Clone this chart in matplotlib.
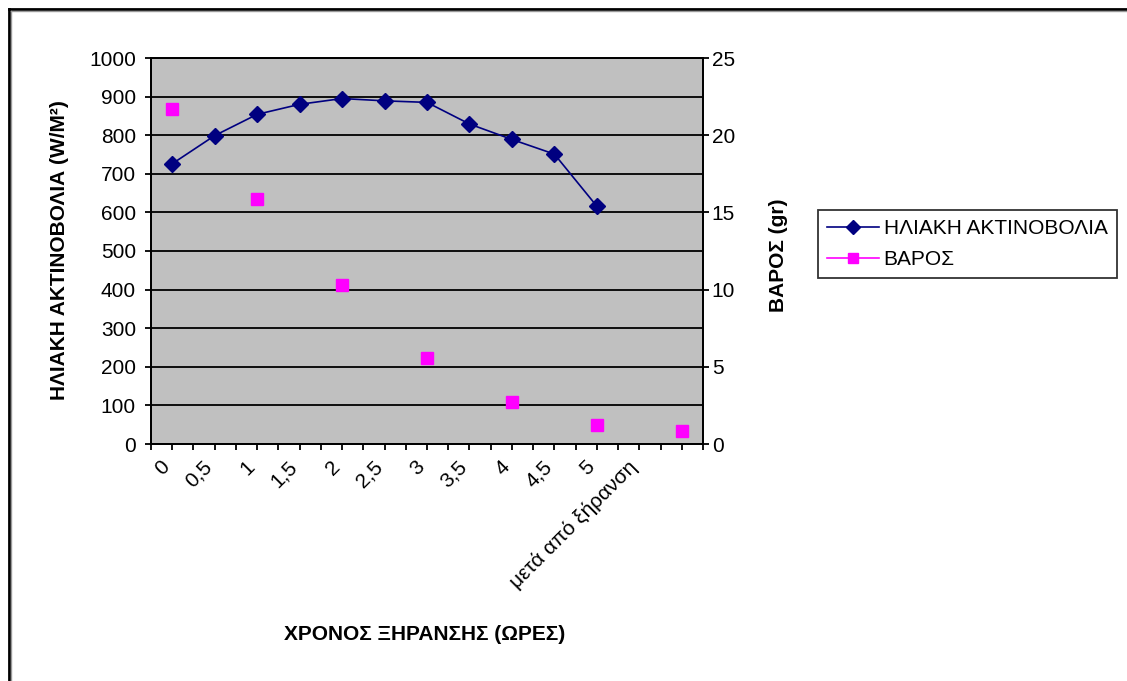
import matplotlib
matplotlib.use("Agg")
import matplotlib.pyplot as plt
from matplotlib.lines import Line2D
from matplotlib.transforms import ScaledTranslation
import numpy as np

categories = ["0", "0,5", "1", "1,5", "2", "2,5", "3", "3,5", "4", "4,5", "5", "μετά από ξήρανση", ""]
radiation = [726, 799, 854, 880, 895, 889, 885, 829, 789, 751, 616]
weight_pos = [0, 2, 4, 6, 8, 10, 12]
weight = [21.7, 15.9, 10.3, 5.6, 2.7, 1.25, 0.85]

plt.rcParams['font.family'] = ['Liberation Sans', 'DejaVu Sans']

FS = 15
W, H = 1127, 681
fig = plt.figure(figsize=(W / 100, H / 100), dpi=100)

L, R, T, B = 151, 703, 58, 444
ax = fig.add_axes([L / W, 1 - B / H, (R - L) / W, (B - T) / H])
ax.set_facecolor('#c0c0c0')
ax.set_xlim(-0.5, len(categories) - 0.5)
ax.set_ylim(0, 1000)
ax.set_yticks(np.arange(0, 1001, 100))
ax.yaxis.grid(True, color='black', linewidth=1.3)
ax.set_axisbelow(True)
for s in ax.spines.values():
    s.set_linewidth(1.3)
    s.set_color('black')

ax2 = ax.twinx()
ax2.set_ylim(0, 25)
ax2.set_yticks(np.arange(0, 26, 5))
for s in ax2.spines.values():
    s.set_linewidth(1.3)

xr = np.arange(len(radiation))
ax.plot(xr, radiation, color='#000080', linewidth=1.2, marker='D', markersize=8,
        markerfacecolor='#000080', markeredgecolor='#000080', zorder=5, clip_on=False)
ax2.plot(weight_pos, weight, linestyle='none', marker='s', markersize=9,
         markerfacecolor='#ff00ff', markeredgecolor='#ff00ff', zorder=5, clip_on=False)

ax.set_xticks(np.arange(len(categories)))
ax.set_xticklabels(categories, rotation=45, ha='right', va='top', rotation_mode='anchor', fontsize=FS)
ax.set_xticks(np.arange(-0.5, len(categories), 1.0), minor=True)
ax.tick_params(axis='x', which='both', direction='out', length=4.3, width=1.3, pad=5)
ax.tick_params(axis='y', direction='out', length=4.3, width=1.3, labelsize=FS, pad=6.5)
ax2.tick_params(axis='y', direction='out', length=4.3, width=1.3, labelsize=FS, pad=2)
off = ScaledTranslation(-12 / 100, 0, fig.dpi_scale_trans)
for lab in ax.get_xticklabels():
    lab.set_transform(lab.get_transform() + off)

fig.text(60 / W, 1 - 250 / H, "ΗΛΙΑΚΗ ΑΚΤΙΝΟΒΟΛΙΑ (W/M²)", rotation=90, ha='center', va='center',
         fontsize=FS, fontweight='bold')
fig.text(778 / W, 1 - 255 / H, "ΒΑΡΟΣ (gr)", rotation=90, ha='center', va='center',
         fontsize=FS, fontweight='bold')
fig.text(425 / W, 1 - 635 / H, "ΧΡΟΝΟΣ ΞΗΡΑΝΣΗΣ (ΩΡΕΣ)", ha='center', va='center',
         fontsize=FS, fontweight='bold')

handles = [
    Line2D([0], [0], color='#000080', lw=1.2, marker='D', markersize=7,
           markerfacecolor='#000080', markeredgecolor='#000080'),
    Line2D([0], [0], color='#ff00ff', lw=1.2, marker='s', markersize=7,
           markerfacecolor='#ff00ff', markeredgecolor='#ff00ff'),
]
leg = fig.legend(handles, ["ΗΛΙΑΚΗ ΑΚΤΙΝΟΒΟΛΙΑ", "ΒΑΡΟΣ"], loc='upper left',
                 bbox_to_anchor=(818 / W, 1 - 210 / H), borderaxespad=0, frameon=True, fancybox=False,
                 edgecolor='black', fontsize=FS, handlelength=2.5, borderpad=0.45,
                 labelspacing=0.55, handletextpad=0.2)
leg.get_frame().set_linewidth(1.3)

# chart area border (top and left)
fig.add_artist(Line2D([9 / W, 9 / W], [0, 1 - 9 / H], color='black', lw=2, transform=fig.transFigure))
fig.add_artist(Line2D([9 / W, 1], [1 - 9 / H, 1 - 9 / H], color='black', lw=2, transform=fig.transFigure))
fig.add_artist(Line2D([10.5 / W, 10.5 / W], [0, 1 - 10.5 / H], color='#999999', lw=1, transform=fig.transFigure))
fig.add_artist(Line2D([10.5 / W, 1], [1 - 10.5 / H, 1 - 10.5 / H], color='#999999', lw=1, transform=fig.transFigure))

fig.savefig("out.png", dpi=100)
